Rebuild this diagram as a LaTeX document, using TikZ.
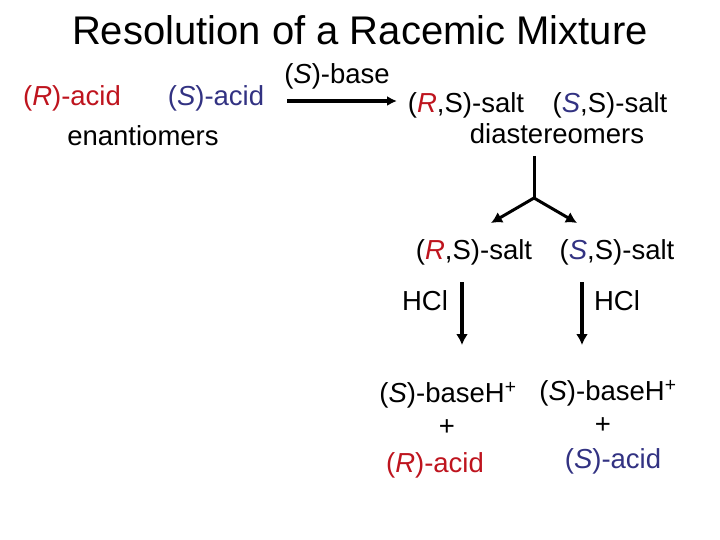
\documentclass[tikz,border=0pt]{standalone}
\usepackage{fontspec}
\setmainfont{Liberation Sans}
\usepackage{tikz}
\usetikzlibrary{positioning,arrows.meta}

\definecolor{rot}{RGB}{190,20,30}
\definecolor{blau}{RGB}{50,50,130}

\newcommand{\Rk}{\textcolor{rot}{\textit{R}}}
\newcommand{\Sk}{\textcolor{blau}{\textit{S}}}

\begin{document}
\begin{tikzpicture}[%show background rectangle,
    x=1pt, y=-1pt,
    font=\fontsize{27.5}{33}\selectfont,
    txt/.style={inner sep=0pt},
    pfeil/.style={->, line width=3.5pt},
    >={Latex[length=11pt,width=12pt]} % Pfeilspitzen
    ]
        \useasboundingbox (0,0) rectangle (720,540);

        % Titel
        \node[txt, font=\fontsize{40}{48}\selectfont] (title) at (360,30)
            {Resolution of a Racemic Mixture};

        % Enantiomere
        \node[txt, text=rot] (racR) at (72,98) {(\textit{R})-acid};
        \node[txt, text=blau] (racS) at (216,98) {(\textit{S})-acid};
        \node[txt] (enant) at (143,136) {enantiomers};

        % Reagenz
        \node[txt] (base) at (337,76) {(\textit{S})-base};
        \coordinate (pa) at (287,101);
        \coordinate (pb) at (397,101);

        % Diastereomere
        \node[txt] (saltRS) at (466,105) {(\Rk,S)-salt};
        \node[txt] (saltSS) at (610,105) {(\Sk,S)-salt};
        \node[txt] (diast) at (557,134) {diastereomers};

        % Trennung
        \coordinate (top) at (534,156);
        \coordinate (fork) at (534,198);
        \coordinate (forkL) at (491,223);
        \coordinate (forkR) at (577,223);

        \node[txt] (salt2RS) at (474,252) {(\Rk,S)-salt};
        \node[txt] (salt2SS) at (617,252) {(\Sk,S)-salt};

        % Saeure
        \coordinate (aL) at (462,282);
        \coordinate (bL) at (462,345);
        \coordinate (aR) at (582,282);
        \coordinate (bR) at (582,345);
        \node[txt] (hclL) at (425,301) {HCl};
        \node[txt] (hclR) at (617,301) {HCl};

        % Produkte
        \node[txt] (baseL) at (448,395) {(\textit{S})-baseH\textsuperscript{+}};
        \node[txt] (plusL) at (447,428) {+};
        \node[txt, text=rot] (acidL) at (435,465) {(\textit{R})-acid};

        \node[txt] (baseR) at (608,393) {(\textit{S})-baseH\textsuperscript{+}};
        \node[txt] (plusR) at (603,426) {+};
        \node[txt, text=blau] (acidR) at (613,461) {(\textit{S})-acid};

        % Pfeile
        \draw[pfeil, >={Latex[length=10pt,width=10pt]}] (pa) -- (pb);
        \draw[line width=3pt] (top) -- (fork);
        \draw[pfeil, line width=3pt] (fork) -- (forkL);
        \draw[pfeil, line width=3pt] (fork) -- (forkR);
        \draw[pfeil] (aL) -- (bL);
        \draw[pfeil] (aR) -- (bR);
    \end{tikzpicture}
\end{document}
